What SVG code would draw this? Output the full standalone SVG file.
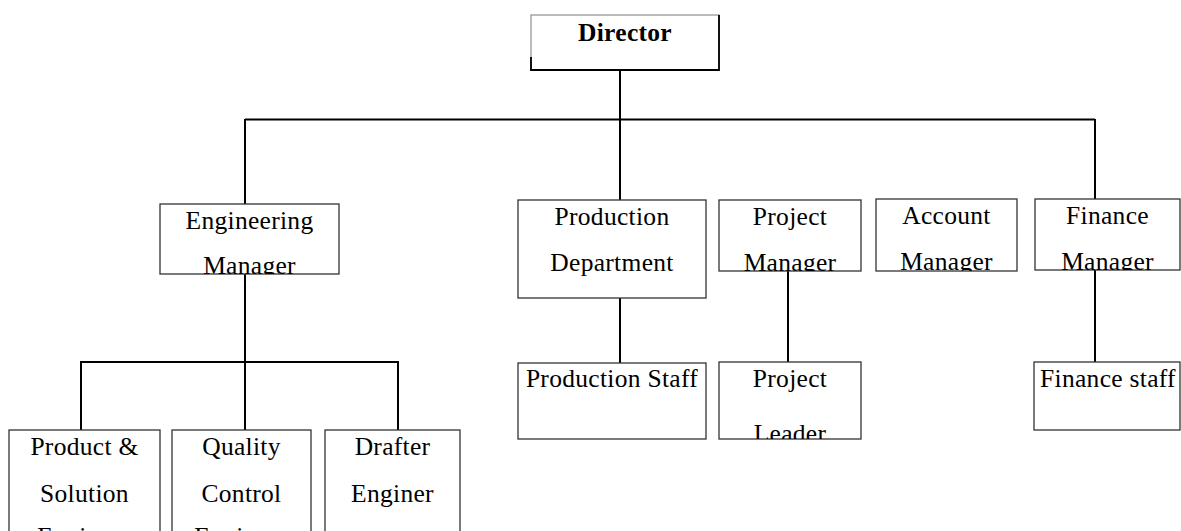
<svg xmlns="http://www.w3.org/2000/svg" width="1181" height="531" viewBox="0 0 1181 531">
<style>
.box{fill:#fff;stroke:#333;stroke-width:1.3}
.t{font-family:"Liberation Serif","Times New Roman",serif;font-size:25.5px;letter-spacing:0.3px;fill:#000;text-anchor:middle}
.b{font-weight:bold}
.c{fill:none;stroke:#000;stroke-width:2}
</style>
<defs>
<clipPath id="cEng"><rect x="160" y="204" width="179" height="70"/></clipPath>
<clipPath id="cPM"><rect x="719" y="200" width="142" height="71"/></clipPath>
<clipPath id="cAM"><rect x="876" y="199" width="141" height="72"/></clipPath>
<clipPath id="cFM"><rect x="1035" y="199" width="146" height="71"/></clipPath>
<clipPath id="cPL"><rect x="719" y="362" width="142" height="77"/></clipPath>
</defs>
<g id="connectors">
<path class="c" d="M620,70 V200"/>
<path class="c" d="M245,119.5 H1095"/>
<path class="c" d="M245,119 V204"/>
<path class="c" d="M1095,119 V199"/>
<path class="c" d="M245,274 V430"/>
<path class="c" d="M80,362 H399"/>
<path class="c" d="M81,362 V430"/>
<path class="c" d="M398,362 V430"/>
<path class="c" d="M620,298 V363"/>
<path class="c" d="M788,271 V362"/>
<path class="c" d="M1095,270 V362"/>
</g>
<g id="director">
<rect x="531" y="15" width="188" height="55" fill="#fff" stroke="#999" stroke-width="1.3"/>
<path d="M531,57 V70 H719 V15" fill="none" stroke="#000" stroke-width="1.8"/>
<text class="t b" x="625" y="41">Director</text>
</g>
<g id="engineering-manager">
<rect class="box" x="160" y="204" width="179" height="70"/>
<g clip-path="url(#cEng)"><text class="t" x="249.5" y="229">Engineering</text><text class="t" x="249.5" y="274">Manager</text></g>
</g>
<g id="production-department">
<rect class="box" x="518" y="200" width="188" height="98"/>
<text class="t" x="612" y="225">Production</text><text class="t" x="612" y="271">Department</text>
</g>
<g id="project-manager">
<rect class="box" x="719" y="200" width="142" height="71"/>
<g clip-path="url(#cPM)"><text class="t" x="790" y="225">Project</text><text class="t" x="790" y="271">Manager</text></g>
</g>
<g id="account-manager">
<rect class="box" x="876" y="199" width="141" height="72"/>
<g clip-path="url(#cAM)"><text class="t" x="946.5" y="224">Account</text><text class="t" x="946.5" y="270">Manager</text></g>
</g>
<g id="finance-manager">
<rect class="box" x="1035" y="199" width="145" height="71"/>
<g clip-path="url(#cFM)"><text class="t" x="1107.5" y="224">Finance</text><text class="t" x="1107.5" y="270">Manager</text></g>
</g>
<g id="production-staff">
<rect class="box" x="518" y="363" width="188" height="76"/>
<text class="t" x="612" y="387">Production Staff</text>
</g>
<g id="project-leader">
<rect class="box" x="719" y="362" width="142" height="77"/>
<g clip-path="url(#cPL)"><text class="t" x="790" y="387">Project</text><text class="t" x="790" y="442">Leader</text></g>
</g>
<g id="finance-staff">
<rect class="box" x="1034" y="362" width="146" height="68"/>
<text class="t" x="1108" y="387">Finance staff</text>
</g>
<g id="product-solution-engineer">
<rect class="box" x="9" y="430" width="151" height="130"/>
<text class="t" x="84.5" y="455">Product &amp;</text><text class="t" x="84.5" y="502">Solution</text><text class="t" x="84.5" y="545">Engineer</text>
</g>
<g id="quality-control-engineer">
<rect class="box" x="172" y="430" width="139" height="130"/>
<text class="t" x="241.5" y="455">Quality</text><text class="t" x="241.5" y="502">Control</text><text class="t" x="241.5" y="545">Engineer</text>
</g>
<g id="drafter-enginer">
<rect class="box" x="325" y="430" width="135" height="130"/>
<text class="t" x="392.5" y="455">Drafter</text><text class="t" x="392.5" y="502">Enginer</text>
</g>
</svg>
